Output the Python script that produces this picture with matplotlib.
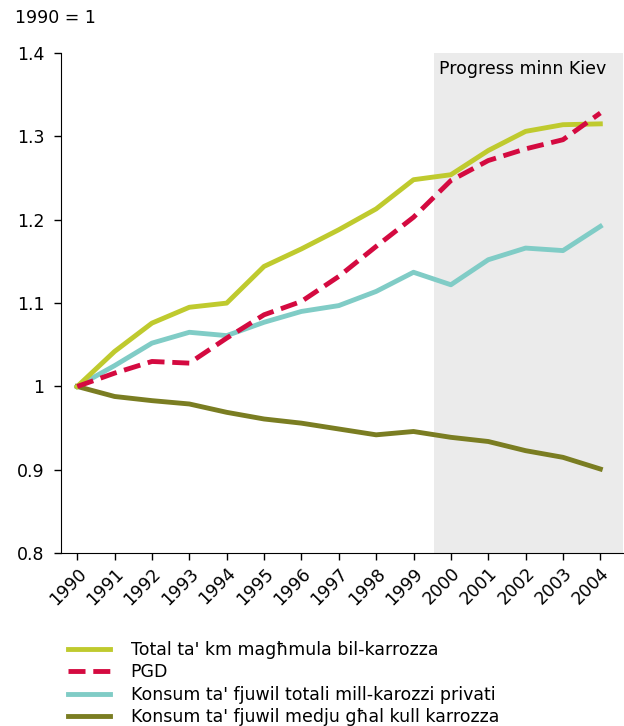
import matplotlib
matplotlib.use("Agg")
import matplotlib.pyplot as plt

years = list(range(1990, 2005))
total_km = [1.0, 1.042, 1.076, 1.095, 1.100, 1.144, 1.165, 1.188, 1.213, 1.248,
            1.254, 1.283, 1.306, 1.314, 1.315]
pgd = [1.0, 1.016, 1.030, 1.028, 1.058, 1.086, 1.102, 1.132, 1.168, 1.203,
       1.247, 1.271, 1.285, 1.296, 1.328]
fuel_total = [1.0, 1.025, 1.052, 1.065, 1.061, 1.077, 1.090, 1.097, 1.114, 1.137,
              1.122, 1.152, 1.166, 1.163, 1.192]
fuel_avg = [1.0, 0.988, 0.983, 0.979, 0.969, 0.961, 0.956, 0.949, 0.942, 0.946,
            0.939, 0.934, 0.923, 0.915, 0.901]

labels = ["Total ta' km magħmula bil-karrozza",
          "PGD",
          "Konsum ta' fjuwil totali mill-karozzi privati",
          "Konsum ta' fjuwil medju għal kull karrozza"]

plt.rcParams['font.family'] = ['DejaVu Sans']
fs = 12.5

fig = plt.figure(figsize=(6.24, 7.26), dpi=100)
ax = fig.add_axes([0.098, 0.238, 0.90, 0.689])

# Shaded zone after Kiev
ax.axvspan(1999.55, 2004.6, color='#ebebeb', lw=0, zorder=0)
ax.text(1999.68, 1.381, "Progress minn Kiev", fontsize=fs, va='center', ha='left')

lw = 3.5
ax.plot(years, total_km, color='#bfca2e', lw=lw, label=labels[0], zorder=3)
ax.plot(years, pgd, color='#d40a40', lw=lw, dashes=(3.5, 1.6), label=labels[1], zorder=4)
ax.plot(years, fuel_total, color='#80ccc6', lw=lw, label=labels[2], zorder=2)
ax.plot(years, fuel_avg, color='#7a7d22', lw=lw, label=labels[3], zorder=2)

ax.set_xlim(1989.57, 2004.6)
ax.set_ylim(0.8, 1.4)
ax.set_yticks([0.8, 0.9, 1.0, 1.1, 1.2, 1.3, 1.4])
ax.set_yticklabels(['0.8', '0.9', '1', '1.1', '1.2', '1.3', '1.4'])
ax.set_xticks(years)
ax.set_xticklabels([str(y) for y in years], rotation=45, ha='right',
                   rotation_mode='anchor')
ax.tick_params(axis='both', labelsize=fs, direction='out', length=5, width=1)
ax.tick_params(axis='x', pad=3)
ax.tick_params(axis='y', pad=7)

for s in ['top', 'right']:
    ax.spines[s].set_visible(False)

fig.text(0.024, 0.975, "1990 = 1", fontsize=fs, va='center', ha='left')

fig.legend(loc='upper left', bbox_to_anchor=(0.098, 0.127), frameon=False,
           fontsize=fs, handlelength=2.4, handletextpad=1.2, labelspacing=0.26,
           borderaxespad=0)

fig.savefig("out.png", dpi=100)
